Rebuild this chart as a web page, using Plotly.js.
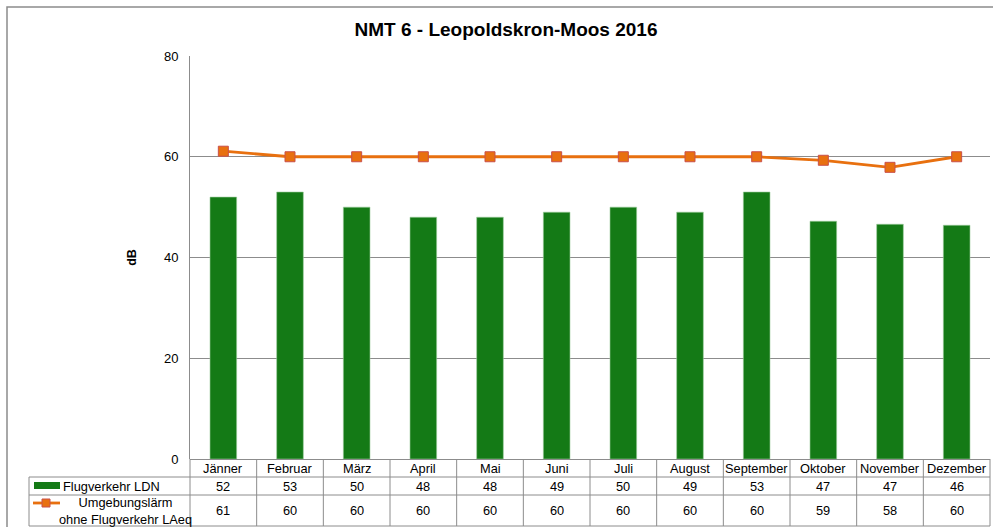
<!DOCTYPE html>
<html>
<head>
<meta charset="utf-8">
<script src="https://cdn.plot.ly/plotly-3.0.1.min.js"></script>
<style>
  html, body { margin: 0; padding: 0; background: #fff; }
  #chart { width: 993px; height: 527px; }
</style>
</head>
<body>
<div id="chart"></div>
<script>
const months = ["Jänner", "Februar", "März", "April", "Mai", "Juni",
  "Juli", "August", "September", "Oktober", "November", "Dezember"];
// Flugverkehr LDN (bars)
const flugLdn = [52, 53, 50, 48, 48, 49, 50, 49, 53, 47.2, 46.6, 46.4];
// Umgebungslärm ohne Flugverkehr LAeq (line)
const umgebung = [61.1, 60, 60, 60, 60, 60, 60, 60, 60, 59.3, 57.9, 60];
const seriesNames = ["Flugverkehr LDN", "Umgebungslärm<br>ohne Flugverkehr LAeq"];
const yTicks = [0, 20, 40, 60, 80];

const W = 993, H = 527;
const L = 190, R = 990, T = 56, B = 459;
// pixel -> paper helpers, only used for the table frame below the plot
const px = (x) => (x - L) / (R - L);
const py = (y) => (B - y) / (B - T);

const GRID = "#8c8c8c";
const FONT = "Liberation Sans, Arial, sans-serif";
const TABLE_SIZE = 12.8;

const bars = {
  type: "bar",
  x: months,
  y: flugLdn,
  width: 0.4,
  marker: { color: "#147a16", line: { color: "#9fcf9f", width: 0.6 } },
  hoverinfo: "skip",
  showlegend: false,
};

const line = {
  type: "scatter",
  mode: "lines+markers",
  x: months,
  y: umgebung,
  line: { color: "#e8700f", width: 2.8 },
  marker: { symbol: "square", size: 10, color: "#e8700f", line: { color: "#c9504a", width: 1 } },
  hoverinfo: "skip",
  showlegend: false,
};

// data table under the chart
const shapes = [];
const annotations = [];
const hline = (y, x0, x1) => shapes.push({
  type: "line", xref: "paper", yref: "paper",
  x0: px(x0), x1: px(x1), y0: py(y), y1: py(y),
  line: { color: GRID, width: 1 },
});
const vline = (x, y0, y1) => shapes.push({
  type: "line", xref: "paper", yref: "paper",
  x0: px(x), x1: px(x), y0: py(y0), y1: py(y1),
  line: { color: GRID, width: 1 },
});

const colW = (R - L) / months.length;
hline(477, 29, R);
hline(495, 29, R);
hline(526, 29, R);
vline(29, 477, 526);
for (let i = 0; i <= months.length; i++) vline(L + i * colW, B, 526);

const cell = (text, xPix, yPix) => annotations.push({
  xref: "paper", yref: "paper",
  x: px(xPix), y: py(yPix),
  text, showarrow: false,
  xanchor: "center", yanchor: "middle",
  font: { family: FONT, size: TABLE_SIZE, color: "#000" },
});

months.forEach((m, i) => {
  const cx = L + (i + 0.5) * colW;
  cell(m, cx, 468);
  cell(String(Math.round(flugLdn[i])), cx, 486);
  cell(String(Math.round(umgebung[i])), cx, 511);
});

// legend keys inside the table
shapes.push({
  type: "rect", xref: "paper", yref: "paper",
  x0: px(34), x1: px(60), y0: py(489), y1: py(482),
  fillcolor: "#147a16", line: { width: 0 },
});
shapes.push({
  type: "line", xref: "paper", yref: "paper",
  x0: px(33), x1: px(60), y0: py(503), y1: py(503),
  line: { color: "#e8700f", width: 2.8 },
});
shapes.push({
  type: "rect", xref: "paper", yref: "paper",
  x0: px(42), x1: px(50), y0: py(507), y1: py(499),
  fillcolor: "#e8700f", line: { color: "#c9504a", width: 1 },
});
annotations.push({
  xref: "paper", yref: "paper", x: px(61), y: py(486),
  text: seriesNames[0], showarrow: false, xanchor: "left", yanchor: "middle",
  font: { family: FONT, size: TABLE_SIZE, color: "#000" },
});
annotations.push({
  xref: "paper", yref: "paper", x: px(125), y: py(511),
  text: seriesNames[1], showarrow: false, xanchor: "center", yanchor: "middle",
  align: "center",
  font: { family: FONT, size: TABLE_SIZE, color: "#000" },
});

// outer chart frame
shapes.push({
  type: "rect", xref: "paper", yref: "paper",
  x0: px(7), x1: px(1010), y0: py(7), y1: py(540),
  line: { color: "#8c8c8c", width: 1.5 },
  fillcolor: "rgba(0,0,0,0)",
});

const layout = {
  width: W,
  height: H,
  margin: { l: L, r: W - R, t: T, b: H - B },
  paper_bgcolor: "#fff",
  plot_bgcolor: "#fff",
  font: { family: FONT, size: 13, color: "#000" },
  title: {
    text: "<b>NMT 6 - Leopoldskron-Moos 2016</b>",
    xref: "container", yref: "container",
    x: 506 / W, y: 1 - 29 / H,
    xanchor: "center", yanchor: "middle",
    font: { family: FONT, size: 19, color: "#000" },
  },
  xaxis: {
    type: "category",
    range: [-0.5, 11.5],
    showticklabels: false,
    showgrid: false,
    zeroline: false,
    showline: false,
    ticks: "",
    fixedrange: true,
  },
  yaxis: {
    range: [0, 80],
    tickvals: yTicks,
    ticks: "",
    showgrid: true,
    gridcolor: GRID,
    gridwidth: 1,
    showline: true,
    linecolor: GRID,
    linewidth: 1,
    zeroline: true,
    zerolinecolor: GRID,
    zerolinewidth: 1,
    ticklabelstandoff: 8,
    tickfont: { family: FONT, size: 13, color: "#000" },
    title: {
      text: "<b>dB</b>",
      standoff: 24,
      font: { family: FONT, size: 12.5, color: "#000" },
    },
    fixedrange: true,
  },
  shapes,
  annotations,
  bargap: 0.6,
};

Plotly.newPlot("chart", [bars, line], layout, { staticPlot: true });
</script>
</body>
</html>
